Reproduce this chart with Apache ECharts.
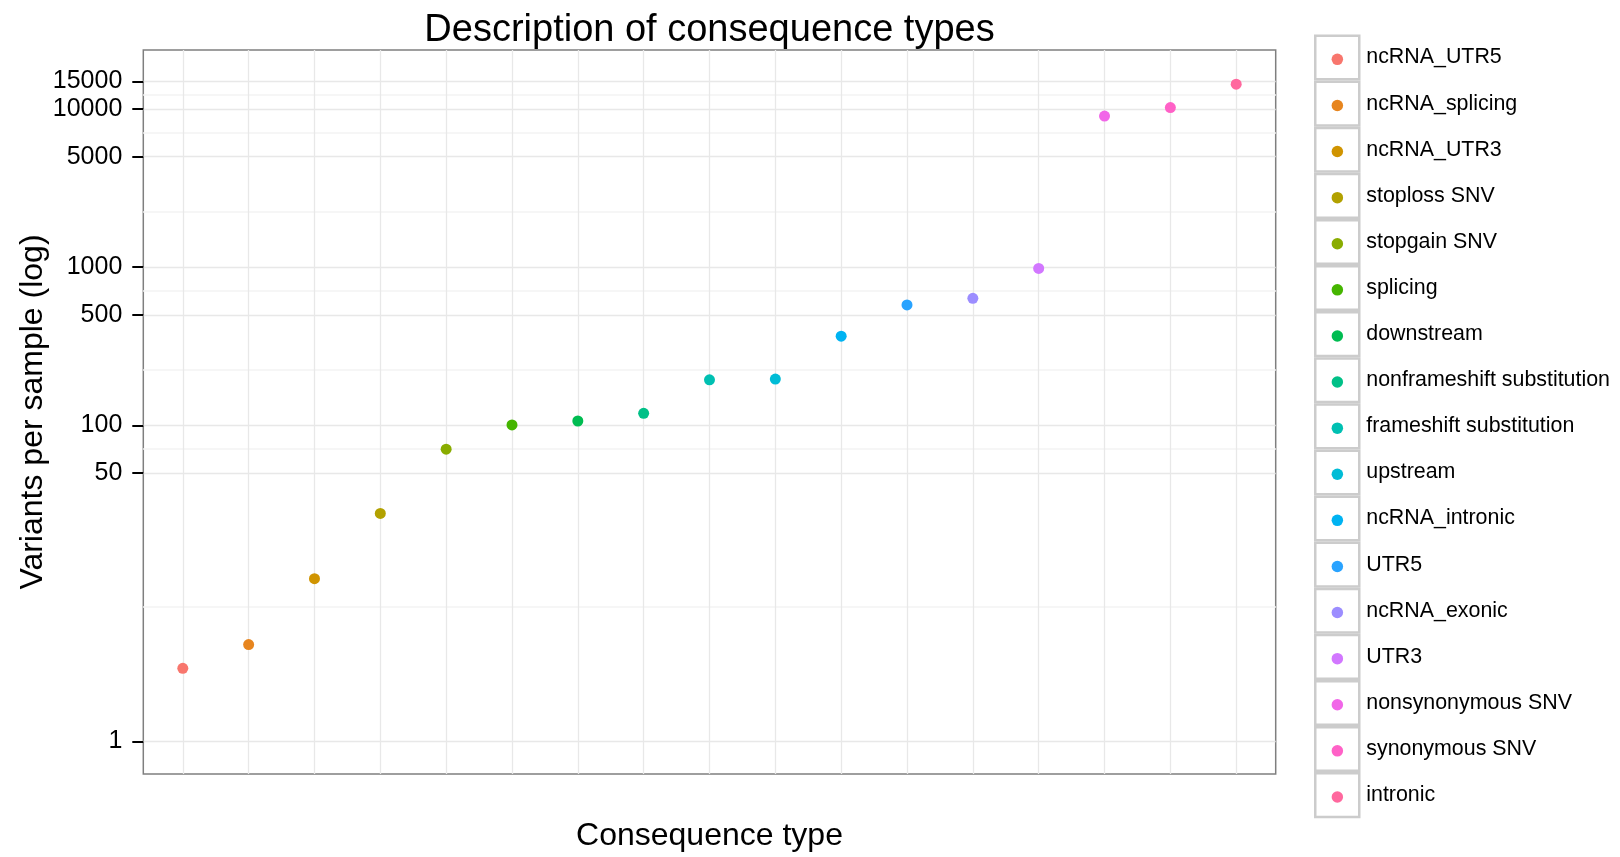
<!DOCTYPE html>
<html>
<head>
<meta charset="utf-8">
<script src="https://cdn.jsdelivr.net/npm/echarts@6/dist/echarts.min.js"></script>
<style>
  html, body { margin: 0; padding: 0; background: #ffffff; overflow: hidden; width: 1620px; height: 857px; }
  #chart { display: block; width: 1620px; height: 857px; }
</style>
</head>
<body>
<div id="chart"></div>
<script>
// ---- data ----
const categories = [
  'ncRNA_UTR5', 'ncRNA_splicing', 'ncRNA_UTR3', 'stoploss SNV', 'stopgain SNV',
  'splicing', 'downstream', 'nonframeshift substitution', 'frameshift substitution',
  'upstream', 'ncRNA_intronic', 'UTR5', 'ncRNA_exonic', 'UTR3',
  'nonsynonymous SNV', 'synonymous SNV', 'intronic'
];
const variantsPerSample = [
  2.9, 4.1, 10.7, 27.7, 70.6,
  100.5, 106.4, 119, 194,
  196, 366, 577, 635, 982,
  9035, 10230, 14380
];
const categoryPositions = [0, 1, 2, 3, 4, 5, 6, 7, 8, 9, 10, 11, 12, 13, 14, 15, 16];
const yTickValues = [1, 50, 100, 500, 1000, 5000, 10000, 15000];
const yMinorBreaks = [7.07, 70.7, 223.6, 707.1, 2236, 7071, 12247];

const titleText = 'Description of consequence types';
const xTitle = 'Consequence type';
const yTitle = 'Variants per sample (log)';

// ---- ggplot2 default hue palette (hcl, c=100, l=65) ----
function hclHex(h, c, l) {
  const hr = h * Math.PI / 180;
  const U = c * Math.cos(hr), V = c * Math.sin(hr);
  const Y = l > 8 ? Math.pow((l + 16) / 116, 3) : l / 903.3;
  const Xn = 0.95047, Yn = 1.0, Zn = 1.08883;
  const den = Xn + 15 * Yn + 3 * Zn;
  const un = 4 * Xn / den, vn = 9 * Yn / den;
  const u = U / (13 * l) + un, v = V / (13 * l) + vn;
  const X = 9 * Y * u / (4 * v);
  const Z = Y * (12 - 3 * u - 20 * v) / (4 * v);
  const lin = [
    3.240479 * X - 1.537150 * Y - 0.498535 * Z,
   -0.969256 * X + 1.875992 * Y + 0.041556 * Z,
    0.055648 * X - 0.204043 * Y + 1.057311 * Z
  ];
  return '#' + lin.map(function (x) {
    let g = x <= 0.0031308 ? 12.92 * x : 1.055 * Math.pow(x, 1 / 2.4) - 0.055;
    g = Math.max(0, Math.min(1, g));
    const s = Math.round(g * 255).toString(16);
    return s.length < 2 ? '0' + s : s;
  }).join('');
}
const palette = categories.map(function (_, i) {
  return hclHex(15 + i * 360 / categories.length, 100, 65);
});

const FONT = "'Liberation Sans', Arial, Helvetica, sans-serif";

const chart = echarts.init(document.getElementById('chart'), null, { renderer: 'canvas', width: 1620, height: 857 });

const series = categories.map(function (name, i) {
  return {
    type: 'scatter',
    name: name,
    xAxisIndex: 0,
    yAxisIndex: 0,
    data: [[categoryPositions[i], variantsPerSample[i]]],
    symbol: 'circle',
    symbolSize: 11,
    itemStyle: { color: palette[i], opacity: 1 },
    z: 3,
    silent: true
  };
});

const option = {
  backgroundColor: '#ffffff',
  animation: false,
  textStyle: { fontFamily: FONT },
  grid: {
    left: 143.3, top: 50, width: 1132.4, height: 726,
    show: true, borderColor: '#7f7f7f', borderWidth: 1.5, backgroundColor: '#ffffff'
  },
  xAxis: [
    {
      type: 'value', min: -0.6, max: 16.6,
      name: xTitle, nameLocation: 'middle', nameGap: 46, nameMoveOverlap: false,
      nameTextStyle: { fontSize: 32, lineHeight: 32, color: '#000000', fontFamily: FONT },
      axisLine: { show: false, onZero: false },
      axisTick: { show: false, customValues: categoryPositions },
      axisLabel: { show: false, customValues: categoryPositions },
      splitLine: { show: true, lineStyle: { color: '#e8e8e8', width: 1.3 } }
    },
    {
      type: 'value', min: -0.6, max: 16.6, position: 'top',
      name: titleText, nameLocation: 'middle', nameGap: 0.5, nameMoveOverlap: false,
      nameTextStyle: { fontSize: 38, lineHeight: 38, color: '#000000', fontFamily: FONT },
      axisLine: { show: false, onZero: false }, axisTick: { show: false },
      axisLabel: { show: false }, splitLine: { show: false }
    }
  ],
  yAxis: [
    {
      type: 'log', logBase: 10, min: 0.622, max: 23660,
      name: yTitle, nameLocation: 'middle', nameGap: 94, nameRotate: 90,
      nameMoveOverlap: false,
      nameTextStyle: { fontSize: 32, lineHeight: 32, color: '#000000', fontFamily: FONT },
      axisLine: { show: false, onZero: false },
      axisTick: { show: true, length: 11, customValues: yTickValues,
                  lineStyle: { color: '#000000', width: 2 } },
      axisLabel: { show: true, customValues: yTickValues, margin: 21,
                   fontSize: 25, color: '#000000', fontFamily: FONT, padding: [4, 0, 0, 0],
                   formatter: function (v) { return String(Math.round(v)); } },
      splitLine: { show: true, lineStyle: { color: '#e8e8e8', width: 1.3 } }
    },
    {
      type: 'log', logBase: 10, min: 0.622, max: 23660,
      axisLine: { show: false, onZero: false },
      axisTick: { show: false, customValues: yMinorBreaks },
      axisLabel: { show: false, customValues: yMinorBreaks },
      splitLine: { show: true, lineStyle: { color: '#f6f6f6', width: 2 } }
    }
  ],
  legend: [
    {
      orient: 'vertical', left: 1314, top: 34.5, padding: 0,
      itemWidth: 44, itemHeight: 43.6, itemGap: 0, icon: 'rect',
      selectedMode: false, z: 4,
      itemStyle: { color: '#ffffff', borderColor: '#cccccc', borderWidth: 2.5 },
      textStyle: { fontSize: 21.4, color: '#000000', fontFamily: FONT, padding: [4, 0, 0, 2] },
      data: categories
    },
    {
      orient: 'vertical', left: 1331.6, top: 53.6, padding: 0,
      itemWidth: 11.5, itemHeight: 11.5, itemGap: 34.6, icon: 'circle',
      selectedMode: false, z: 5,
      formatter: function () { return ''; },
      textStyle: { fontSize: 1, lineHeight: 1 },
      data: categories
    }
  ],
  series: series
};

chart.setOption(option);
</script>
</body>
</html>
